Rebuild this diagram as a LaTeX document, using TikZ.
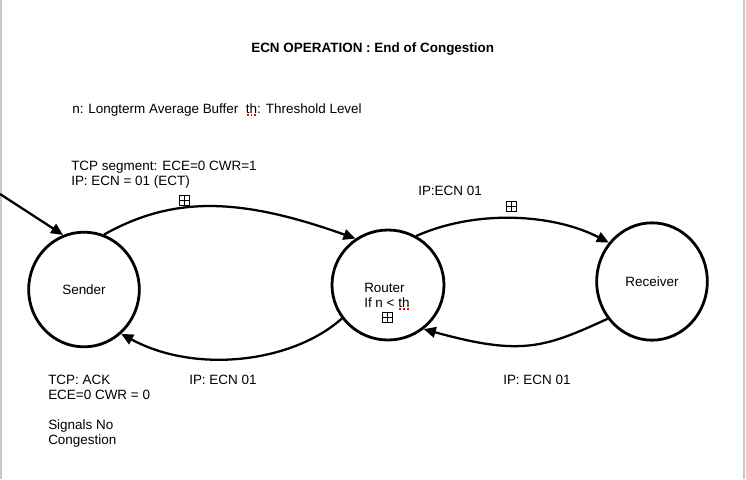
\documentclass[tikz,border=0pt]{standalone}
\usepackage{fontspec}
\setmainfont{Liberation Sans}
\usetikzlibrary{arrows.meta,shapes.geometric}

% red dotted mark under a word
\newcommand\spellmark[1]{\leavevmode\setbox0=\hbox{#1}\rlap{\raisebox{-2.1pt}{\textcolor{red}{\hbox to\wd0{\leaders\hbox to 2.8pt{\hss\vrule height 1.3pt width 1.3pt\hss}\hfill}}}}\box0}

\begin{document}
\begin{tikzpicture}[x=0.75pt,y=0.75pt,yscale=-1,xscale=1,
		every node/.style={font=\fontsize{10.1}{11.25}\selectfont, inner sep=0pt},
		note/.style={anchor=base west, align=left},
		station/.style={draw, ellipse, line width=2.1pt, minimum width=83pt, minimum height=85pt},
		plusbox/.style={draw, line width=0.6pt, minimum size=7.5pt,
			path picture={\draw[line width=0.6pt] (path picture bounding box.north) -- (path picture bounding box.south) (path picture bounding box.west) -- (path picture bounding box.east);}},
		flow/.style={line width=1.7pt, -{Triangle[length=9pt,width=8pt]}}]
		\useasboundingbox (0,0) rectangle (746,479);
		
		% page edges
		\draw [color={rgb, 255:red, 200; green, 200; blue, 200 }, line width=1.1pt] (1,0) -- (1,479) ;
		\draw [color={rgb, 255:red, 200; green, 200; blue, 200 }, line width=1.1pt] (744,0) -- (744,479) ;
		
		\node [anchor=base west, font=\bfseries\fontsize{10.1}{11.25}\selectfont] (title) at (251,52) {ECN OPERATION : End of Congestion};
		\node [note] (legend) at (72,113) {n: Longterm Average Buffer\ \ \spellmark{th}: Threshold Level};
		
		\node [station, minimum height=86pt] (sender) at (84,289.5) {Sender};
		\node [station, minimum width=84pt, minimum height=82.5pt] (router) at (388,285) {};
		\node [station, minimum height=88pt] (receiver) at (652,281.5) {Receiver};
		
		% base of a note is its last line
		\node [note] (routerrule) at (364,307) {Router\\If n < \spellmark{th}};
		\node [plusbox] (routerbox) at (387.5,317) {};
		
		\node [note] (segnote) at (71,185) {TCP segment: ECE=0 CWR=1\\IP: ECN = 01 (ECT)};
		\node [plusbox] (segbox) at (184,200.5) {};
		\node [note] (hopnote) at (418,195) {IP:ECN 01};
		\node [plusbox] (hopbox) at (511.5,206.5) {};
		\node [note] (returnnote) at (503,384) {IP: ECN 01};
		\node [note] (backnote) at (189,384) {IP: ECN 01};
		\node [note] (acknote) at (48,444) {TCP: ACK\\ECE=0 CWR = 0\\[11.25pt]Signals No\\Congestion};
		
		\coordinate (entry) at (0,194);
		\draw [flow] (entry) -- (sender.111) ;
		\draw [flow] (sender.70) .. controls (173,196) and (239,197) .. (router.125) ;
		\draw [flow] (router.60) .. controls (477,209) and (554,214) .. (receiver.138) ;
		\draw [flow] (receiver.220) .. controls (544,348) and (521,356) .. (router.309) ;
		\draw [flow] (router.216) .. controls (292,363) and (195,374) .. (sender.310) ;
		
\end{tikzpicture}
\end{document}
